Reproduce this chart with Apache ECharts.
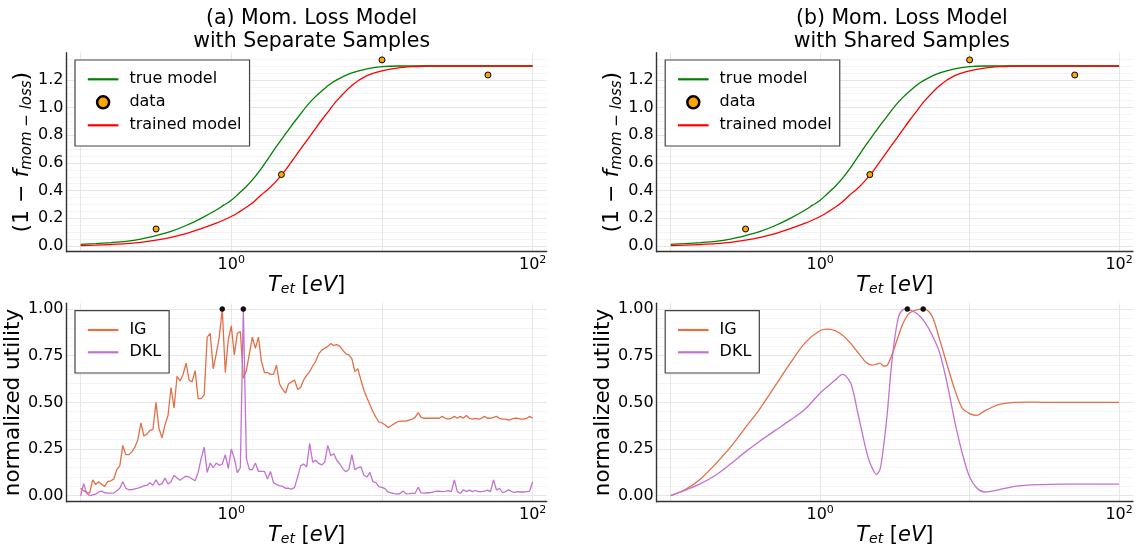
<!DOCTYPE html>
<html><head><meta charset="utf-8">
<script src="https://cdn.jsdelivr.net/npm/echarts@6/dist/echarts.min.js"></script>
<style>html,body{margin:0;padding:0;background:#fff}#c{width:1136px;height:550px}</style>
</head><body><div id="c"></div>
<script>
// ---------- data ----------
const T_model = [0.1,0.1259,0.1585,0.1995,0.2512,0.3162,0.3981,0.5012,0.631,0.7943,0.8913,1,1.122,1.259,1.413,1.585,1.778,1.995,2.239,2.512,2.818,3.162,3.548,3.981,4.467,5.012,6.31,7.943,10,12.59,15.85,19.95,25.12,31.62,39.81,50.12,63.1,79.43,100];
const trueModel = [0.012,0.018,0.025,0.034,0.05,0.075,0.105,0.148,0.20,0.26,0.295,0.33,0.38,0.43,0.49,0.56,0.64,0.72,0.795,0.87,0.94,1.01,1.07,1.12,1.165,1.20,1.25,1.28,1.295,1.30,1.30,1.30,1.30,1.30,1.30,1.30,1.30,1.30,1.30];
const trainedModel = [0.003,0.006,0.011,0.017,0.026,0.042,0.063,0.09,0.125,0.165,0.188,0.213,0.245,0.28,0.32,0.37,0.415,0.47,0.535,0.61,0.685,0.76,0.835,0.91,0.98,1.05,1.16,1.23,1.265,1.285,1.295,1.30,1.30,1.30,1.30,1.30,1.30,1.30,1.30];
const T_obs = [0.317,2.15,10.0,50.5];
const obsValues = [0.123,0.516,1.344,1.235];

const T_sep = [0.1,0.1047,0.1096,0.1148,0.1202,0.1259,0.1318,0.138,0.1445,0.1514,
0.1585,0.166,0.1738,0.182,0.1905,0.1995,0.2089,0.2188,0.2291,0.2399,
0.2512,0.263,0.2754,0.2884,0.302,0.3162,0.3311,0.3467,0.3631,0.3802,
0.3981,0.4169,0.4365,0.4571,0.4786,0.5012,0.5248,0.5495,0.5754,0.6026,
0.631,0.6607,0.6918,0.7244,0.7586,0.7943,0.8318,0.871,0.912,0.955,
1,1.047,1.096,1.148,1.202,1.259,1.318,1.38,1.445,1.514,
1.585,1.66,1.738,1.82,1.905,1.995,2.089,2.188,2.291,2.399,
2.512,2.63,2.754,2.884,3.02,3.162,3.311,3.467,3.631,3.802,
3.981,4.169,4.365,4.571,4.786,5.012,5.248,5.495,5.754,6.026,
6.31,6.607,6.918,7.244,7.586,7.943,8.318,8.71,9.12,9.55,
10,10.47,10.96,11.48,12.02,12.59,13.18,13.8,14.45,15.14,
15.85,16.6,17.38,18.2,19.05,19.95,20.89,21.88,22.91,23.99,
25.12,26.3,27.54,28.84,30.2,31.62,33.11,34.67,36.31,38.02,
39.81,41.69,43.65,45.71,47.86,50.12,52.48,54.95,57.54,60.26,
63.1,66.07,69.18,72.44,75.86,79.43,83.18,87.1,91.2,95.5,
100];
const IG_sep = [0.04,0.027,0.018,0.014,0.085,0.06,0.075,0.06,0.05,0.075,
0.08,0.089,0.14,0.16,0.27,0.22,0.22,0.235,0.26,0.30,
0.39,0.32,0.33,0.35,0.355,0.50,0.36,0.31,0.38,0.43,
0.58,0.47,0.64,0.615,0.65,0.71,0.62,0.61,0.67,0.52,
0.52,0.54,0.85,0.87,0.68,0.76,0.85,1.0,0.66,0.835,
0.91,0.755,0.87,0.88,0.63,0.67,0.76,0.85,0.79,0.85,
0.72,0.66,0.66,0.65,0.65,0.70,0.60,0.57,0.55,0.60,
0.61,0.62,0.57,0.58,0.62,0.645,0.665,0.695,0.72,0.76,
0.78,0.79,0.80,0.815,0.805,0.81,0.80,0.78,0.76,0.755,
0.735,0.665,0.68,0.62,0.565,0.525,0.487,0.45,0.42,0.395,
0.39,0.38,0.365,0.375,0.385,0.395,0.40,0.40,0.40,0.405,
0.41,0.42,0.445,0.42,0.415,0.415,0.415,0.415,0.415,0.415,
0.425,0.415,0.41,0.415,0.425,0.415,0.425,0.415,0.43,0.415,
0.41,0.415,0.41,0.415,0.425,0.415,0.415,0.42,0.425,0.415,
0.41,0.41,0.405,0.41,0.415,0.415,0.41,0.41,0.415,0.425,
0.415];
const DKL_sep = [0.0,0.065,0.015,0.0,0.004,0.008,0.02,0.025,0.016,0.014,
0.014,0.015,0.027,0.04,0.075,0.04,0.032,0.033,0.037,0.041,
0.046,0.053,0.055,0.07,0.056,0.085,0.058,0.065,0.095,0.063,
0.075,0.11,0.095,0.083,0.095,0.105,0.10,0.09,0.08,0.125,
0.2,0.26,0.125,0.175,0.15,0.175,0.163,0.17,0.22,0.146,
0.25,0.2,0.124,0.15,1.0,0.2,0.14,0.14,0.175,0.13,
0.13,0.13,0.09,0.13,0.07,0.06,0.054,0.05,0.04,0.04,
0.035,0.045,0.1,0.16,0.17,0.155,0.28,0.18,0.19,0.173,
0.165,0.18,0.27,0.215,0.225,0.19,0.17,0.145,0.128,0.14,
0.22,0.14,0.15,0.155,0.11,0.1,0.125,0.075,0.07,0.048,
0.045,0.038,0.02,0.015,0.011,0.009,0.012,0.025,0.01,0.011,
0.013,0.013,0.045,0.015,0.014,0.016,0.016,0.02,0.025,0.024,
0.022,0.023,0.027,0.022,0.085,0.022,0.013,0.032,0.022,0.03,
0.022,0.028,0.022,0.022,0.025,0.03,0.022,0.085,0.03,0.04,
0.016,0.022,0.032,0.022,0.018,0.022,0.02,0.02,0.022,0.025,
0.075];
const T_maxSep = [0.871, 1.202];
const maxSep = [1.0, 1.0];

const T_sh = [0.1,0.1259,0.1585,0.1995,0.2512,0.3162,0.3981,0.5012,0.631,0.7943,1,1.122,1.259,1.413,1.585,1.679,1.778,1.884,1.995,2.113,2.239,2.371,2.512,2.661,2.818,2.985,3.162,3.35,3.548,3.758,3.981,4.467,5.012,5.623,6.31,7.079,7.943,8.913,10,11.22,12.59,15.85,19.95,25.12,31.62,39.81,63.1,100];
const IG_sh = [0.0,0.035,0.09,0.17,0.26,0.365,0.47,0.59,0.71,0.82,0.885,0.893,0.885,0.86,0.82,0.795,0.77,0.745,0.72,0.705,0.70,0.705,0.71,0.695,0.70,0.745,0.80,0.86,0.915,0.955,0.98,0.997,1.0,0.96,0.835,0.70,0.57,0.47,0.44,0.43,0.455,0.49,0.50,0.502,0.50,0.50,0.50,0.50];
const DKL_sh = [0.0,0.03,0.065,0.11,0.17,0.235,0.295,0.35,0.405,0.465,0.55,0.585,0.62,0.65,0.61,0.545,0.45,0.36,0.27,0.195,0.145,0.115,0.14,0.27,0.45,0.68,0.85,0.96,0.995,1.0,0.995,0.975,0.93,0.86,0.765,0.60,0.40,0.23,0.10,0.04,0.02,0.033,0.05,0.058,0.06,0.062,0.062,0.062];
const T_maxSh = [3.83, 4.89];
const maxSh = [1.0, 1.0];

const xTickExps = [0, 2];
const yTicksTop = [0, 0.2, 0.4, 0.6, 0.8, 1.0, 1.2];
const yTicksBottom = [0, 0.25, 0.5, 0.75, 1.0];
const titles = ['(a) Mom. Loss Model\nwith Separate Samples', '(b) Mom. Loss Model\nwith Shared Samples'];

// ---------- layout / style ----------
const FONT = 'DejaVu Sans';
const X_MIN = 0.0806, X_MAX = 123.9;
const C_TRUE = '#008000', C_TRAIN = '#ff0000', C_IG = '#e36f47', C_DKL = '#c371d2', C_OBS = '#ffa500';
const zip = (xs, ys) => xs.map((x, i) => [x, ys[i]]);

const grids = [
  {left: 66.5, top: 52.7, width: 480.2, height: 199},
  {left: 656.7, top: 52.7, width: 480.2, height: 199},
  {left: 66.5, top: 303.3, width: 480.2, height: 198.4},
  {left: 656.7, top: 303.3, width: 480.2, height: 198.4}
];

const axisLineStyle = {color: '#333', width: 1.4};
const richName = {
  i: {fontSize: 21, fontStyle: 'italic', fontFamily: FONT, color: '#000', verticalAlign: 'top'},
  sub: {fontSize: 14, fontStyle: 'italic', fontFamily: FONT, color: '#000', verticalAlign: 'top', padding: [8, 0, 0, 0]},
  n: {fontSize: 21, fontFamily: FONT, color: '#000', verticalAlign: 'top'}
};

function xAxisCfg(i) {
  return {
    type: 'log', logBase: 10, gridIndex: i, min: X_MIN, max: X_MAX,
    axisLine: {show: true, onZero: false, lineStyle: axisLineStyle},
    axisTick: {show: false},
    splitLine: {show: true, showMinLine: false, showMaxLine: false, lineStyle: {color: '#e6e6e6', width: 1}},
    axisLabel: {
      margin: 3,
      formatter: v => {
        const e = Math.log10(v), r = Math.round(e);
        if (Math.abs(e - r) > 1e-6 || !xTickExps.includes(r)) return '';
        return '{b|10}{s|' + r + '}';
      },
      rich: {
        b: {fontSize: 16, fontFamily: FONT, color: '#000', verticalAlign: 'top', padding: [2, 0, 0, 0]},
        s: {fontSize: 11, fontFamily: FONT, color: '#000', verticalAlign: 'top'}
      }
    },
    name: '{i|T}{sub|et}{n| [}{i|eV}{n|]}',
    nameLocation: 'middle', nameGap: 23,
    nameTextStyle: {rich: richName}
  };
}

function yAxisCfg(i, min, max, step, ticks, digits, minorN, name, gap, nameStyle) {
  return {
    type: 'value', gridIndex: i, min: min, max: max, minInterval: step, maxInterval: step,
    axisLine: {show: true, onZero: false, lineStyle: axisLineStyle},
    axisTick: {show: false},
    splitLine: {show: true, showMinLine: false, showMaxLine: false, lineStyle: {color: '#e6e6e6', width: 1}},
    minorTick: {show: false, splitNumber: minorN},
    minorSplitLine: {show: true, lineStyle: {color: '#f3f3f3', width: 1}},
    axisLabel: {
      margin: 3, fontSize: 16, fontFamily: FONT, color: '#000',
      formatter: v => {
        const t = ticks.find(tt => Math.abs(tt - v) < 1e-6);
        return t === undefined ? '' : t.toFixed(digits);
      }
    },
    name: name, nameLocation: 'middle', nameRotate: 90, nameGap: gap,
    nameTextStyle: nameStyle
  };
}

const yNameTop = '{n|(1 − }{i|f}{sub|mom − loss}{n|)}';
const yNameTopStyle = {rich: {
  i: {fontSize: 22, fontStyle: 'italic', fontFamily: FONT, color: '#000', verticalAlign: 'top'},
  sub: {fontSize: 15, fontStyle: 'italic', fontFamily: FONT, color: '#000', verticalAlign: 'top', padding: [8, 0, 0, 0]},
  n: {fontSize: 22, fontFamily: FONT, color: '#000', verticalAlign: 'top'}
}};
const yNameBottomStyle = {fontSize: 21.5, fontFamily: FONT, color: '#000'};

function legendCfg(left, top, items, padBottom, gap) {
  return {
    orient: 'vertical', left: left, top: top,
    data: items,
    backgroundColor: '#fff', borderColor: '#444', borderWidth: 1.2, borderRadius: 0,
    padding: [11.3, 8, padBottom, 11.7], itemGap: gap,
    itemWidth: 30.6, itemHeight: 12,
    selectedMode: false,
    textStyle: {fontSize: 16, fontFamily: FONT, color: '#000', padding: [0, 0, 0, 6]}
  };
}
const hiddenSymbol = {opacity: 0, color: 'rgba(0,0,0,0)', borderWidth: 0};
const modelLegendItems = [
  {name: 'true model', lineStyle: {width: 2.2}, itemStyle: hiddenSymbol},
  {name: 'data', icon: 'circle', itemStyle: {color: C_OBS, borderColor: '#000', borderWidth: 2.5}},
  {name: 'trained model', lineStyle: {width: 2.2}, itemStyle: hiddenSymbol}
];
const utilLegendItems = [
  {name: 'IG', lineStyle: {width: 2.2}, itemStyle: hiddenSymbol},
  {name: 'DKL', lineStyle: {width: 2.2}, itemStyle: hiddenSymbol}
];

function lineSeries(name, idx, xs, ys, color, smooth) {
  return {
    name: name, type: 'line', xAxisIndex: idx, yAxisIndex: idx,
    data: zip(xs, ys), symbol: 'none', showSymbol: false, smooth: smooth,
    lineStyle: {color: color, width: 1.3}, itemStyle: {color: color}, z: 2
  };
}
function dotSeries(name, idx, xs, ys, color, size, border) {
  return {
    name: name, type: 'scatter', xAxisIndex: idx, yAxisIndex: idx,
    data: zip(xs, ys), symbol: 'circle', symbolSize: size,
    itemStyle: {color: color, borderColor: '#000', borderWidth: border, opacity: 1}, z: 4
  };
}

const series = [];
[0, 1].forEach(p => {
  series.push(lineSeries('true model', p, T_model, trueModel, C_TRUE, 0.3));
  series.push(dotSeries('data', p, T_obs, obsValues, C_OBS, 6, 1));
  series.push(lineSeries('trained model', p, T_model, trainedModel, C_TRAIN, 0.3));
});
series.push(lineSeries('IG', 2, T_sep, IG_sep, C_IG, false));
series.push(lineSeries('DKL', 2, T_sep, DKL_sep, C_DKL, false));
series.push(dotSeries('max sep', 2, T_maxSep, maxSep, '#111', 5, 0.5));
series.push(lineSeries('IG', 3, T_sh, IG_sh, C_IG, 0.3));
series.push(lineSeries('DKL', 3, T_sh, DKL_sh, C_DKL, 0.3));
series.push(dotSeries('max sh', 3, T_maxSh, maxSh, '#111', 5, 0.5));

const titleStyle = {fontSize: 20.5, fontWeight: 'normal', color: '#000', lineHeight: 23, fontFamily: FONT};
const option = {
  animation: false,
  backgroundColor: '#fff',
  textStyle: {fontFamily: FONT},
  title: [
    {text: titles[0], left: 306.6, top: 2, textAlign: 'center', textStyle: titleStyle},
    {text: titles[1], left: 896.8, top: 2, textAlign: 'center', textStyle: titleStyle}
  ],
  grid: grids,
  xAxis: [0, 1, 2, 3].map(xAxisCfg),
  yAxis: [
    yAxisCfg(0, -0.041, 1.396, 0.2, yTicksTop, 1, 4, yNameTop, 31, yNameTopStyle),
    yAxisCfg(1, -0.041, 1.396, 0.2, yTicksTop, 1, 4, yNameTop, 31, yNameTopStyle),
    yAxisCfg(2, -0.032, 1.031, 0.25, yTicksBottom, 2, 5, 'normalized utility', 40, yNameBottomStyle),
    yAxisCfg(3, -0.032, 1.031, 0.25, yTicksBottom, 2, 5, 'normalized utility', 40, yNameBottomStyle)
  ],
  legend: [
    legendCfg(75, 60, modelLegendItems, 12.7, 7),
    legendCfg(665.2, 60, modelLegendItems, 12.7, 7),
    legendCfg(75, 310.7, utilLegendItems, 12.7, 6.3),
    legendCfg(665.2, 310.7, utilLegendItems, 12.7, 6.3)
  ],
  series: series
};

const chart = echarts.init(document.getElementById('c'), null, {renderer: 'canvas'});
chart.setOption(option);
</script></body></html>
